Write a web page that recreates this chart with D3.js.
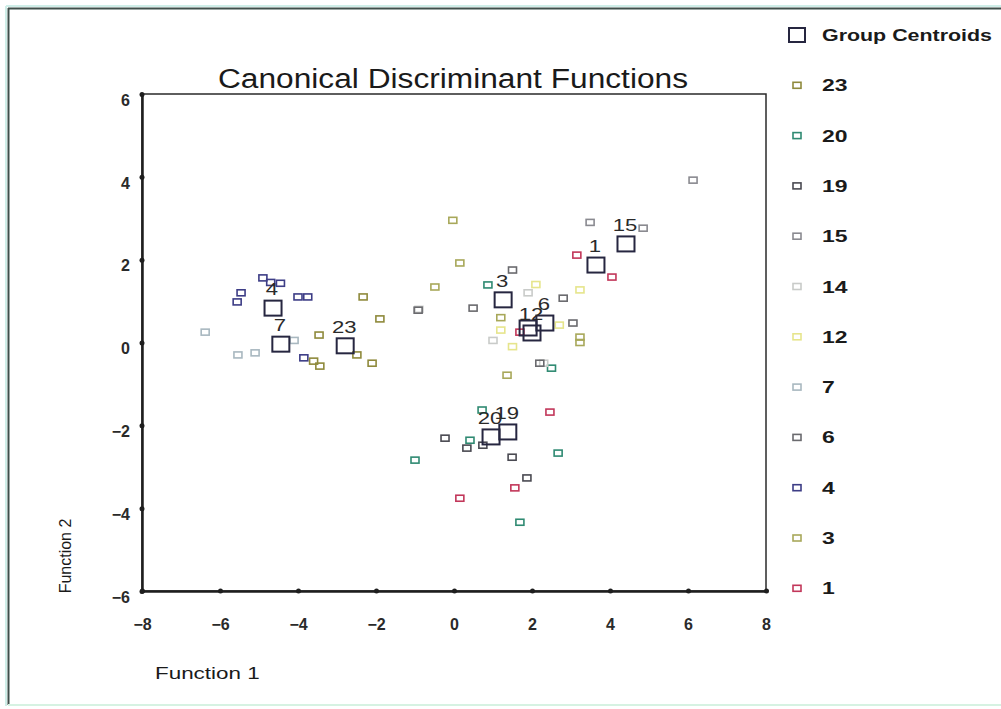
<!DOCTYPE html>
<html>
<head>
<meta charset="utf-8">
<script src="https://cdn.jsdelivr.net/npm/d3@7"></script>
<style>
  html, body { margin: 0; padding: 0; background: #fff; }
  svg { display: block; font-family: "Liberation Sans", Arial, sans-serif; }
</style>
</head>
<body>
<svg id="chart" width="1001" height="709"></svg>
<script>
// Group order as listed in the legend
const groups = ["23", "20", "19", "15", "14", "12", "7", "6", "4", "3", "1"];
const groupColors = ["#8f8a3c", "#2f8a72", "#4a4a52", "#8a8a90", "#c9cbc9", "#e6e58c", "#a9b8c0", "#6a6a6e", "#3d3d86", "#a8a85a", "#c2375a"];

// Discriminant scores per case: Function 1, Function 2, group
const caseF1 = [
  -5.46, -5.56, -4.9, -4.7, -4.45, -4.0, -3.75, -3.85,
  -6.38, -5.54, -5.1, -4.1,
  -2.33, -1.9, -3.46, -3.44, -2.49, -2.1, -3.6,
  0.72, 1.69, 0.41, 2.67, -1.0, 2.5, 0.87,
  -0.23, 0.33, 0.74, 1.49, 1.87,
  6.13, 3.49, 4.85,
  3.15, 4.05, 2.46, 0.15, 1.56, 1.69,
  -0.03, 0.15, -0.49, 1.36, 3.23, 3.23, 1.2,
  1.2, 2.1, 3.23, 2.7, 1.5,
  1.0, 2.3, 1.9, -0.9,
  -0.92, 0.49, 2.8, 3.05, 2.2, 1.5
];
const caseF2 = [
  1.2, 0.98, 1.56, 1.45, 1.43, 1.1, 1.1, -0.37,
  0.25, -0.3, -0.25, 0.05,
  1.1, 0.57, 0.18, -0.57, -0.3, -0.5, -0.45,
  -1.63, -4.34, -2.36, -2.67, -2.84, -0.62, 1.39,
  -2.31, -2.55, -2.48, -2.77, -3.27,
  3.92, 2.9, 2.76,
  2.11, 1.58, -1.68, -3.76, -3.51, 0.25,
  2.95, 1.92, 1.34, -0.79, 0.0, 0.13, 0.6,
  0.3, 1.4, 1.27, 0.42, -0.1,
  0.05, -0.5, 1.2, 0.8,
  0.78, 0.83, 1.07, 0.47, -0.5, 1.75
];
const caseGroup = [
  "4", "4", "4", "4", "4", "4", "4", "4",
  "7", "7", "7", "7",
  "23", "23", "23", "23", "23", "23", "23",
  "20", "20", "20", "20", "20", "20", "20",
  "19", "19", "19", "19", "19",
  "15", "15", "15",
  "1", "1", "1", "1", "1", "1",
  "3", "3", "3", "3", "3", "3", "3",
  "12", "12", "12", "12", "12",
  "14", "14", "14", "14",
  "6", "6", "6", "6", "6", "6"
];

// Group centroids
const centroidGroup = ["4", "7", "23", "3", "12", "6", "14", "1", "15", "20", "19"];
const centroidF1 = [-4.64, -4.44, -2.79, 1.26, 2.0, 2.33, 1.9, 3.64, 4.41, 0.95, 1.38];
const centroidF2 = [0.83, -0.04, -0.08, 1.03, 0.23, 0.47, 0.35, 1.87, 2.38, -2.28, -2.16];
const centroidLabelShown = [true, true, true, true, true, true, false, true, true, true, true];

const xTicks = [-8, -6, -4, -2, 0, 2, 4, 6, 8];
const yTicks = [-6, -4, -2, 0, 2, 4, 6];

const svg = d3.select("#chart");
const W = 1001, H = 709;

// widen text horizontally by a factor (wide sans look)
function widen(sel, factor) {
  sel.each(function () {
    const w = this.getComputedTextLength();
    d3.select(this).attr("textLength", w * factor).attr("lengthAdjust", "spacingAndGlyphs");
  });
}

// outer panel frame
svg.append("rect").attr("x", 0).attr("y", 0).attr("width", W).attr("height", H).attr("fill", "#fff");
svg.append("line").attr("x1", 6).attr("x2", 6).attr("y1", 6).attr("y2", 706).attr("stroke", "#cfeee8").attr("stroke-width", 2);
svg.append("line").attr("x1", 6).attr("x2", W).attr("y1", 6).attr("y2", 6).attr("stroke", "#cfeee8").attr("stroke-width", 2);
svg.append("line").attr("x1", 8.5).attr("x2", 8.5).attr("y1", 8).attr("y2", 705).attr("stroke", "#3f4f4a").attr("stroke-width", 2);
svg.append("line").attr("x1", 8).attr("x2", W).attr("y1", 8.5).attr("y2", 8.5).attr("stroke", "#3f4f4a").attr("stroke-width", 2);
svg.append("line").attr("x1", 8).attr("x2", W).attr("y1", 705).attr("y2", 705).attr("stroke", "#d6f2e2").attr("stroke-width", 2);

const plot = { left: 142, right: 766, top: 94, bottom: 591 };
const x = d3.scaleLinear().domain([-8, 8]).range([plot.left, plot.right]);
const y = d3.scaleLinear().domain([-6, 6]).range([plot.bottom, plot.top]);
const color = d3.scaleOrdinal().domain(groups).range(groupColors);

// title
const title = svg.append("text").attr("x", 453).attr("y", 88).attr("text-anchor", "middle")
  .attr("font-size", 27).attr("fill", "#1a1a1a").text("Canonical Discriminant Functions");
title.attr("textLength", 470).attr("lengthAdjust", "spacingAndGlyphs");

// plot frame (top and right)
svg.append("rect").attr("x", plot.left).attr("y", plot.top)
  .attr("width", plot.right - plot.left).attr("height", plot.bottom - plot.top)
  .attr("fill", "none").attr("stroke", "#2a2a2a").attr("stroke-width", 1.5);

// axes
const xAxis = d3.axisBottom(x).tickValues(xTicks).tickSize(0).tickPadding(28).tickFormat(d3.format("d"));
const yAxis = d3.axisLeft(y).tickValues(yTicks).tickSize(0).tickPadding(12).tickFormat(d3.format("d"));

const gx = svg.append("g").attr("transform", `translate(0,${plot.bottom})`).call(xAxis);
const gy = svg.append("g").attr("transform", `translate(${plot.left},0)`).call(yAxis);
[gx, gy].forEach(g => {
  g.select(".domain").attr("stroke", "#1e1e1e").attr("stroke-width", 2.5);
  g.selectAll("text").attr("font-size", 16).attr("font-weight", "bold").attr("fill", "#2a2a2a")
    .attr("font-family", "'Liberation Sans', Arial, sans-serif");
});
gy.selectAll("text").attr("dy", "0.7em");

// tick dots
gx.selectAll(".tick").append("circle").attr("r", 2.5).attr("fill", "#1e1e1e");
gy.selectAll(".tick").append("circle").attr("r", 2.5).attr("fill", "#1e1e1e");

// axis titles
const f1 = svg.append("text").attr("x", 155).attr("y", 679).attr("font-size", 16).attr("fill", "#1a1a1a").text("Function 1");
widen(f1, 1.4);
svg.append("text").attr("transform", "translate(71,556) rotate(-90)").attr("text-anchor", "middle")
  .attr("font-size", 16).attr("fill", "#1a1a1a").text("Function 2");

// case markers
const cases = caseF1.map((v, i) => ({ f1: v, f2: caseF2[i], g: caseGroup[i] }));
const mw = 8, mh = 6;
svg.append("g").selectAll("rect").data(cases).join("rect")
  .attr("x", d => x(d.f1) - mw / 2).attr("y", d => y(d.f2) - mh / 2)
  .attr("width", mw).attr("height", mh)
  .attr("fill", "none").attr("stroke", d => color(d.g)).attr("stroke-width", 1.6);

// centroids
const cents = centroidF1.map((v, i) => ({ f1: v, f2: centroidF2[i], g: centroidGroup[i], show: centroidLabelShown[i] }));
const cw = 17, ch = 15;
svg.append("g").selectAll("rect").data(cents).join("rect")
  .attr("x", d => x(d.f1) - cw / 2).attr("y", d => y(d.f2) - ch / 2)
  .attr("width", cw).attr("height", ch)
  .attr("fill", "none").attr("stroke", "#262640").attr("stroke-width", 2);
const clab = svg.append("g").selectAll("text").data(cents.filter(d => d.show)).join("text")
  .attr("x", d => x(d.f1) - 1).attr("y", d => y(d.f2) - 13)
  .attr("text-anchor", "middle").attr("font-size", 17).attr("fill", "#2a2a2a")
  .text(d => d.g);
widen(clab, 1.3);

// legend
const legX = 797, legY0 = 35, legStep = 50.3;
const leg = svg.append("g");
leg.append("rect").attr("x", legX - 8).attr("y", legY0 - 7).attr("width", 16).attr("height", 14)
  .attr("fill", "none").attr("stroke", "#262640").attr("stroke-width", 2);
const legTitle = leg.append("text").attr("x", 822).attr("y", legY0 + 6).attr("font-size", 17).attr("font-weight", "bold")
  .attr("fill", "#1a1a1a").text("Group Centroids");
legTitle.attr("textLength", 170).attr("lengthAdjust", "spacingAndGlyphs");
groups.forEach((g, i) => {
  const yy = legY0 + legStep * (i + 1);
  leg.append("rect").attr("x", legX - 4).attr("y", yy - 3).attr("width", 8).attr("height", 6)
    .attr("fill", "none").attr("stroke", color(g)).attr("stroke-width", 1.6);
  const t = leg.append("text").attr("x", 822).attr("y", yy + 6).attr("font-size", 17).attr("font-weight", "bold")
    .attr("fill", "#1a1a1a").text(g);
  widen(t, 1.35);
});
</script>
</body>
</html>
